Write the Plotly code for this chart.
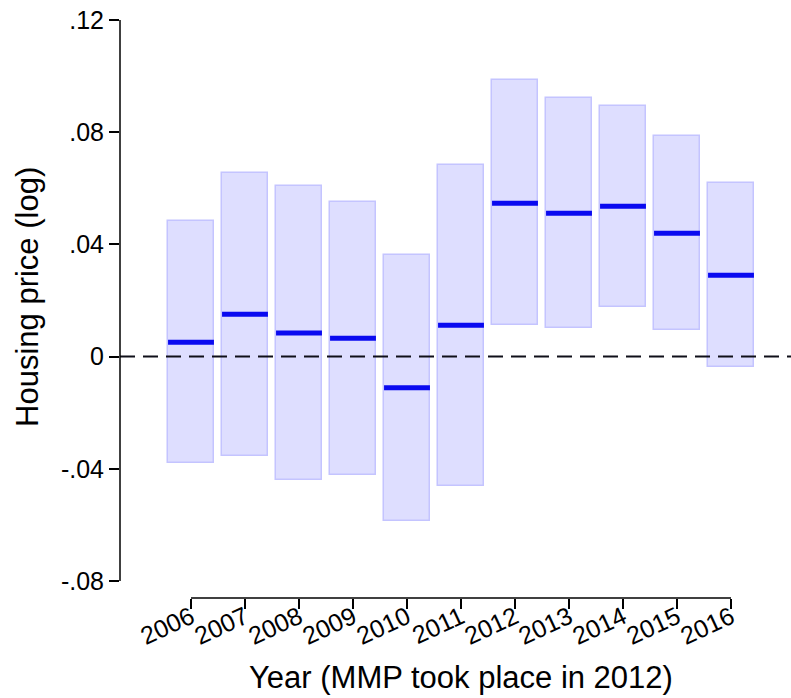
import plotly.graph_objects as go

years = [2006, 2007, 2008, 2009, 2010, 2011, 2012, 2013, 2014, 2015, 2016]
estimate = [0.0051, 0.0151, 0.0084, 0.0065, -0.0111, 0.0112, 0.0547, 0.0511, 0.0536, 0.0440, 0.0290]
ci_upper = [0.0483, 0.0654, 0.0608, 0.0551, 0.0362, 0.0683, 0.0985, 0.0923, 0.0892, 0.0785, 0.0618]
ci_lower = [-0.0380, -0.0354, -0.0439, -0.0422, -0.0587, -0.0462, 0.0112, 0.0101, 0.0178, 0.0094, -0.0038]

y_tickvals = [-0.08, -0.04, 0, 0.04, 0.08, 0.12]
y_ticktext = ["-.08", "-.04", "0", ".04", ".08", ".12"]

FONT = "Arial, Liberation Sans, sans-serif"
BAR_W = 0.85

fig = go.Figure()

fig.add_trace(go.Bar(
    x=years,
    y=[u - l for u, l in zip(ci_upper, ci_lower)],
    base=ci_lower,
    width=BAR_W,
    marker=dict(color="rgb(222,222,255)", line=dict(color="rgb(196,196,255)", width=1.5)),
    showlegend=False,
    hoverinfo="skip",
))

ex, ey = [], []
for yr, e in zip(years, estimate):
    ex += [yr - BAR_W / 2, yr + BAR_W / 2, None]
    ey += [e, e, None]
fig.add_trace(go.Scatter(
    x=ex, y=ey, mode="lines",
    line=dict(color="rgb(10,10,240)", width=5),
    showlegend=False, hoverinfo="skip",
))

# zero reference line
fig.add_shape(type="line", xref="paper", x0=0, x1=1, yref="y", y0=0, y1=0,
              line=dict(color="rgb(15,15,25)", width=2, dash="15px,8px"), layer="above")
# y axis line (from -.08 to .12)
fig.add_shape(type="line", xref="paper", x0=0, x1=0, yref="y", y0=-0.08, y1=0.12,
              line=dict(color="black", width=1.5))
# x axis line (2006 to 2016)
fig.add_shape(type="line", xref="x", x0=years[0], x1=years[-1], yref="paper", y0=0, y1=0,
              line=dict(color="black", width=1.5))

fig.add_annotation(text="Housing price (log)", xref="paper", yref="paper",
                   x=0, y=0.512, xshift=-92, textangle=-90, showarrow=False,
                   xanchor="center", yanchor="middle",
                   font=dict(family=FONT, size=31, color="black"))
fig.add_annotation(text="Year (MMP took place in 2012)", xref="paper", yref="paper",
                   x=(461 - 120) / 671, y=-0.1344, showarrow=False,
                   xanchor="center", yanchor="middle",
                   font=dict(family=FONT, size=31, color="black"))

fig.update_layout(
    width=791, height=698,
    margin=dict(l=120, r=0, t=10, b=100),
    plot_bgcolor="white", paper_bgcolor="white",
    bargap=0,
    font=dict(family=FONT, size=24, color="black"),
    xaxis=dict(
        range=[2006 - 71 / 54, 2006 + 600 / 54],
        tickvals=years, ticktext=[str(y) for y in years],
        tickangle=-25, ticks="outside", ticklen=10, tickwidth=1.5, tickcolor="black",
        ticklabelstandoff=-16,
        showline=False, showgrid=False, zeroline=False,
        tickfont=dict(family=FONT, size=25, color="black"),
    ),
    yaxis=dict(
        range=[-0.08606, 0.12357],
        tickvals=y_tickvals, ticktext=y_ticktext,
        ticks="outside", ticklen=10, tickwidth=1.5, tickcolor="black",
        showline=False, showgrid=False, zeroline=False,
        tickfont=dict(family=FONT, size=25, color="black"),
    ),
)

fig.write_html("out.html")
